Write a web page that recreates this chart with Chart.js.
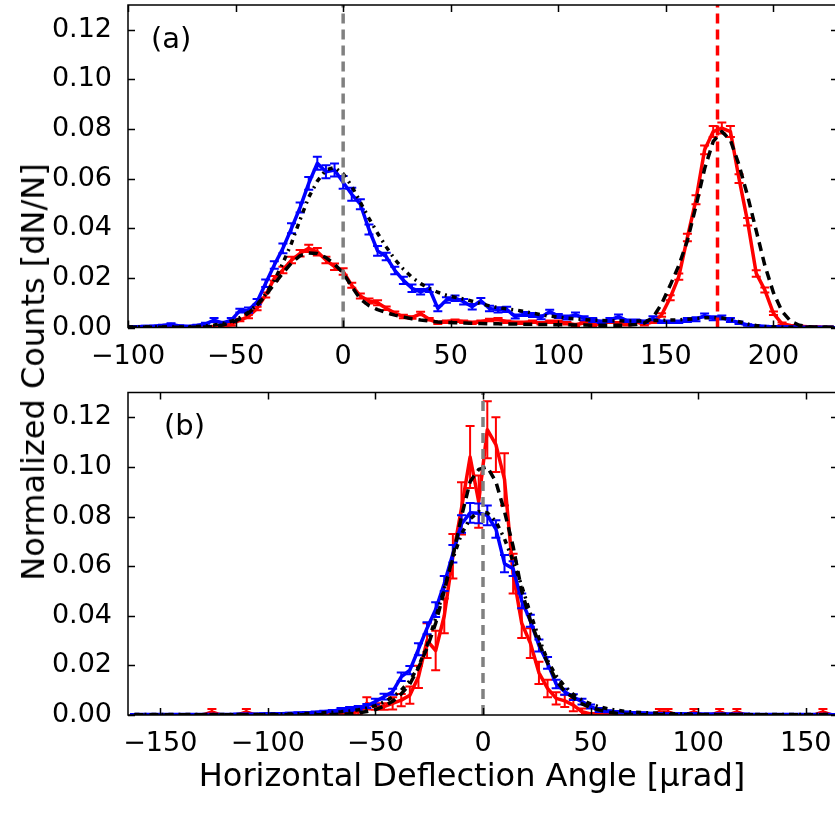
<!DOCTYPE html>
<html>
<head>
<meta charset="utf-8">
<script src="https://cdn.jsdelivr.net/npm/chart.js"></script>
<style>
  html, body { margin: 0; padding: 0; background: #fff; overflow: hidden; }
  body { width: 835px; height: 824px; position: relative; font-family: "DejaVu Sans", sans-serif; }
  canvas { position: absolute; left: 0; }
  #chartA { top: 0; }
  #chartB { top: 387px; }
  .txt { position: absolute; color: #000; white-space: nowrap; line-height: 1; }
  #yTitle { font-size: 32px; left: 33px; top: 372px; transform: translate(-50%, -50%) rotate(-90deg); }
  #xTitle { font-size: 32px; left: 472px; top: 775px; transform: translate(-50%, -50%); }
  #labelA { font-size: 29px; left: 151px; top: 38px; transform: translateY(-50%); }
  #labelB { font-size: 29px; left: 164px; top: 425px; transform: translateY(-50%); }
</style>
</head>
<body>
<canvas id="chartA" width="838" height="380"></canvas>
<canvas id="chartB" width="838" height="380"></canvas>
<div class="txt" id="yTitle">Normalized Counts [dN/N]</div>
<div class="txt" id="xTitle">Horizontal Deflection Angle [µrad]</div>
<div class="txt" id="labelA">(a)</div>
<div class="txt" id="labelB">(b)</div>
<script>
// --- panel (a): deflection angles, bins of 4 µrad ---
const angleA = [
  -100, -96, -92, -88, -84, -80, -76, -72, -68, -64,
  -60, -56, -52, -48, -44, -40, -36, -32, -28, -24,
  -20, -16, -12, -8, -4, 0, 4, 8, 12, 16,
  20, 24, 28, 32, 36, 40, 44, 48, 52, 56,
  60, 64, 68, 72, 76, 80, 84, 88, 92, 96,
  100, 104, 108, 112, 116, 120, 124, 128, 132, 136,
  140, 144, 148, 152, 156, 160, 164, 168, 172, 176,
  180, 184, 188, 192, 196, 200, 204, 208, 212, 216,
  220, 224, 228
];
const blueA = [
  0.0003, 0.0003, 0.0004, 0.0005, 0.0008, 0.0012, 0.0006, 0.0004, 0.0008, 0.0014,
  0.0030, 0.0018, 0.0030, 0.0068, 0.0070, 0.0104, 0.0178, 0.0252, 0.0319, 0.0400,
  0.0484, 0.0581, 0.0662, 0.0628, 0.0635, 0.0585, 0.0537, 0.0497, 0.0395, 0.0309,
  0.0286, 0.0230, 0.0190, 0.0158, 0.0144, 0.0158, 0.0077, 0.0111, 0.0118, 0.0104,
  0.0084, 0.0108, 0.0077, 0.0071, 0.0073, 0.0044, 0.0054, 0.0050, 0.0041, 0.0064,
  0.0046, 0.0040, 0.0052, 0.0037, 0.0030, 0.0023, 0.0030, 0.0044, 0.0027, 0.0027,
  0.0023, 0.0037, 0.0023, 0.0023, 0.0023, 0.0030, 0.0033, 0.0048, 0.0037, 0.0040,
  0.0030, 0.0019, 0.0010, 0.0006, 0.0004, 0.0003, 0.0002, 0.0002, 0.0001, 0.0001,
  0.0001, 0.0001, 0.0001
];
const blueErrA = [
  0.0003, 0.0003, 0.0003, 0.0003, 0.0003, 0.0005, 0.0003, 0.0003, 0.0003, 0.0005,
  0.0008, 0.0005, 0.0008, 0.0008, 0.0011, 0.0011, 0.0015, 0.0015, 0.0020, 0.0020,
  0.0020, 0.0026, 0.0026, 0.0026, 0.0026, 0.0026, 0.0026, 0.0020, 0.0020, 0.0020,
  0.0015, 0.0015, 0.0015, 0.0015, 0.0011, 0.0015, 0.0011, 0.0011, 0.0011, 0.0011,
  0.0011, 0.0011, 0.0011, 0.0011, 0.0011, 0.0008, 0.0008, 0.0008, 0.0008, 0.0008,
  0.0008, 0.0008, 0.0008, 0.0008, 0.0008, 0.0005, 0.0008, 0.0008, 0.0005, 0.0005,
  0.0005, 0.0008, 0.0005, 0.0005, 0.0005, 0.0008, 0.0008, 0.0008, 0.0008, 0.0008,
  0.0008, 0.0005, 0.0003, 0.0003, 0.0003, 0.0003, 0.0002, 0.0002, 0.0001, 0.0001,
  0.0001, 0.0001, 0.0001
];
const redA = [
  0.0002, 0.0002, 0.0002, 0.0002, 0.0002, 0.0002, 0.0002, 0.0002, 0.0002, 0.0003,
  0.0004, 0.0006, 0.0012, 0.0030, 0.0044, 0.0077, 0.0131, 0.0198, 0.0232, 0.0272,
  0.0299, 0.0319, 0.0305, 0.0272, 0.0245, 0.0226, 0.0170, 0.0127, 0.0107, 0.0100,
  0.0078, 0.0058, 0.0044, 0.0040, 0.0056, 0.0033, 0.0019, 0.0023, 0.0027, 0.0023,
  0.0019, 0.0023, 0.0030, 0.0033, 0.0023, 0.0019, 0.0019, 0.0023, 0.0017, 0.0023,
  0.0023, 0.0017, 0.0010, 0.0019, 0.0010, 0.0017, 0.0023, 0.0017, 0.0013, 0.0023,
  0.0013, 0.0023, 0.0050, 0.0120, 0.0205, 0.0363, 0.0515, 0.0716, 0.0790, 0.0804,
  0.0790, 0.0600, 0.0426, 0.0218, 0.0151, 0.0057, 0.0015, 0.0008, 0.0005, 0.0003,
  0.0002, 0.0001, 0.0001
];
const redErrA = [
  0.0002, 0.0002, 0.0002, 0.0002, 0.0002, 0.0002, 0.0002, 0.0002, 0.0002, 0.0002,
  0.0002, 0.0002, 0.0005, 0.0005, 0.0007, 0.0007, 0.0010, 0.0010, 0.0013, 0.0013,
  0.0013, 0.0015, 0.0015, 0.0013, 0.0013, 0.0013, 0.0010, 0.0010, 0.0010, 0.0010,
  0.0007, 0.0007, 0.0007, 0.0005, 0.0007, 0.0005, 0.0005, 0.0005, 0.0005, 0.0005,
  0.0005, 0.0005, 0.0005, 0.0005, 0.0005, 0.0005, 0.0005, 0.0005, 0.0005, 0.0005,
  0.0005, 0.0005, 0.0005, 0.0005, 0.0005, 0.0005, 0.0005, 0.0005, 0.0005, 0.0005,
  0.0005, 0.0005, 0.0007, 0.0010, 0.0013, 0.0015, 0.0018, 0.0018, 0.0022, 0.0022,
  0.0022, 0.0018, 0.0015, 0.0013, 0.0010, 0.0007, 0.0005, 0.0002, 0.0002, 0.0002,
  0.0002, 0.0001, 0.0001
];
// fit curves (black dashed = red fit, black dash-dot = blue fit)
const redFitA = [
  0.0001, 0.0001, 0.0001, 0.0001, 0.0001, 0.0001, 0.0001, 0.0001, 0.0001, 0.0002,
  0.0005, 0.0010, 0.0020, 0.0035, 0.0058, 0.0090, 0.0130, 0.0175, 0.0220, 0.0260,
  0.0290, 0.0300, 0.0298, 0.0282, 0.0255, 0.0220, 0.0165, 0.0115, 0.0088, 0.0072,
  0.0060, 0.0050, 0.0042, 0.0035, 0.0030, 0.0026, 0.0022, 0.0020, 0.0019, 0.0018,
  0.0017, 0.0016, 0.0015, 0.0015, 0.0014, 0.0014, 0.0013, 0.0013, 0.0012, 0.0012,
  0.0011, 0.0011, 0.0010, 0.0010, 0.0009, 0.0009, 0.0009, 0.0009, 0.0010, 0.0012,
  0.0018, 0.0040, 0.0095, 0.0170, 0.0250, 0.0350, 0.0490, 0.0640, 0.0750, 0.0790,
  0.0755, 0.0655, 0.0530, 0.0390, 0.0250, 0.0140, 0.0065, 0.0025, 0.0009, 0.0003,
  0.0001, 0.0001, 0.0001
];
const blueFitA = [
  0.0002, 0.0002, 0.0002, 0.0002, 0.0002, 0.0002, 0.0002, 0.0002, 0.0004, 0.0006,
  0.0010, 0.0016, 0.0025, 0.0040, 0.0062, 0.0092, 0.0135, 0.0190, 0.0260, 0.0340,
  0.0435, 0.0525, 0.0590, 0.0635, 0.0645, 0.0620, 0.0570, 0.0505, 0.0440, 0.0380,
  0.0325, 0.0275, 0.0235, 0.0202, 0.0177, 0.0158, 0.0142, 0.0130, 0.0122, 0.0115,
  0.0106, 0.0096, 0.0087, 0.0080, 0.0075, 0.0071, 0.0065, 0.0058, 0.0051, 0.0046,
  0.0042, 0.0038, 0.0035, 0.0032, 0.0030, 0.0028, 0.0027, 0.0027, 0.0026, 0.0026,
  0.0027, 0.0028, 0.0029, 0.0030, 0.0031, 0.0033, 0.0036, 0.0039, 0.0040, 0.0038,
  0.0032, 0.0023, 0.0014, 0.0008, 0.0004, 0.0002, 0.0001, 0.0001, 0.0001, 0.0001,
  0.0001, 0.0001, 0.0001
];
const zeroLineA = 0;
const peakLineA = 174;

// --- panel (b) ---
const angleB = [
  -162, -158, -154, -150, -146, -142, -138, -134, -130, -126,
  -122, -118, -114, -110, -106, -102, -98, -94, -90, -86,
  -82, -78, -74, -70, -66, -62, -58, -54, -50, -46,
  -42, -38, -34, -30, -26, -22, -18, -14, -10, -6,
  -2, 2, 6, 10, 14, 18, 22, 26, 30, 34,
  38, 42, 46, 50, 54, 58, 62, 66, 70, 74,
  78, 82, 86, 90, 94, 98, 102, 106, 110, 114,
  118, 122, 126, 130, 134, 138, 142, 146, 150, 154,
  158, 162
];
const blueB = [
  0.0002, 0.0002, 0.0002, 0.0002, 0.0002, 0.0002, 0.0002, 0.0002, 0.0002, 0.0002,
  0.0002, 0.0002, 0.0003, 0.0003, 0.0003, 0.0004, 0.0005, 0.0005, 0.0006, 0.0007,
  0.0008, 0.0010, 0.0013, 0.0016, 0.0020, 0.0024, 0.0028, 0.0036, 0.0054, 0.0074,
  0.0094, 0.0154, 0.0181, 0.0265, 0.0350, 0.0425, 0.0530, 0.0650, 0.0770, 0.0815,
  0.0813, 0.0805, 0.0750, 0.0610, 0.0590, 0.0460, 0.0380, 0.0280, 0.0210, 0.0125,
  0.0094, 0.0072, 0.0054, 0.0034, 0.0020, 0.0015, 0.0012, 0.0010, 0.0008, 0.0007,
  0.0006, 0.0005, 0.0004, 0.0004, 0.0004, 0.0004, 0.0003, 0.0003, 0.0003, 0.0003,
  0.0003, 0.0003, 0.0002, 0.0002, 0.0002, 0.0002, 0.0002, 0.0002, 0.0002, 0.0002,
  0.0002, 0.0002
];
const blueErrB = [
  0.0002, 0.0002, 0.0002, 0.0002, 0.0002, 0.0002, 0.0002, 0.0002, 0.0002, 0.0002,
  0.0002, 0.0002, 0.0002, 0.0002, 0.0002, 0.0003, 0.0003, 0.0003, 0.0003, 0.0004,
  0.0004, 0.0004, 0.0004, 0.0004, 0.0008, 0.0008, 0.0008, 0.0008, 0.0012, 0.0012,
  0.0012, 0.0017, 0.0017, 0.0024, 0.0024, 0.0030, 0.0030, 0.0035, 0.0035, 0.0040,
  0.0040, 0.0040, 0.0035, 0.0035, 0.0030, 0.0030, 0.0024, 0.0024, 0.0024, 0.0017,
  0.0012, 0.0012, 0.0012, 0.0008, 0.0008, 0.0004, 0.0004, 0.0004, 0.0004, 0.0004,
  0.0003, 0.0003, 0.0003, 0.0003, 0.0003, 0.0003, 0.0003, 0.0003, 0.0003, 0.0003,
  0.0002, 0.0002, 0.0002, 0.0002, 0.0002, 0.0002, 0.0002, 0.0002, 0.0002, 0.0002,
  0.0002, 0.0002
];
const redB = [
  0, 0, 0, 0, 0, 0, 0, 0, 0, 0.0012,
  0, 0, 0, 0.0012, 0, 0, 0, 0, 0, 0,
  0, 0.0006, 0.0004, 0.0008, 0.0006, 0.0008, 0.0013, 0.0047, 0.0034, 0.0034,
  0.0047, 0.0060, 0.0080, 0.0154, 0.0300, 0.0260, 0.0400, 0.0640, 0.0833, 0.1040,
  0.0860, 0.1150, 0.1090, 0.0950, 0.0570, 0.0370, 0.0290, 0.0170, 0.0107, 0.0067,
  0.0057, 0.0040, 0.0013, 0.0004, 0.0004, 0.0002, 0, 0, 0, 0,
  0, 0.0012, 0.0012, 0, 0, 0.0012, 0, 0, 0.0012, 0,
  0.0012, 0, 0, 0, 0, 0, 0, 0, 0, 0,
  0.0012, 0
];
const redErrB = [
  0, 0, 0, 0, 0, 0, 0, 0, 0, 0.0012,
  0, 0, 0, 0.0012, 0, 0, 0, 0, 0, 0,
  0, 0.0006, 0.0004, 0.0008, 0.0006, 0.0008, 0.0013, 0.0025, 0.0013, 0.0013,
  0.0025, 0.0025, 0.0035, 0.0045, 0.0070, 0.0080, 0.0070, 0.0090, 0.0105, 0.0125,
  0.0105, 0.0115, 0.0110, 0.0105, 0.0080, 0.0060, 0.0060, 0.0045, 0.0035, 0.0025,
  0.0025, 0.0025, 0.0013, 0.0004, 0.0004, 0.0002, 0, 0, 0, 0,
  0, 0.0012, 0.0012, 0, 0, 0.0012, 0, 0, 0.0012, 0,
  0.0012, 0, 0, 0, 0, 0, 0, 0, 0, 0,
  0.0012, 0
];
const redFitB = [
  0.0001, 0.0001, 0.0001, 0.0001, 0.0001, 0.0001, 0.0001, 0.0001, 0.0001, 0.0001,
  0.0001, 0.0001, 0.0001, 0.0001, 0.0001, 0.0001, 0.0001, 0.0001, 0.0001, 0.0001,
  0.0001, 0.0001, 0.0001, 0.0002, 0.0003, 0.0005, 0.0008, 0.0014, 0.0022, 0.0035,
  0.0055, 0.0085, 0.0125, 0.0190, 0.0270, 0.0370, 0.0500, 0.0640, 0.0800, 0.0940,
  0.0990, 0.1000, 0.0940, 0.0820, 0.0680, 0.0500, 0.0380, 0.0290, 0.0210, 0.0140,
  0.0095, 0.0070, 0.0045, 0.0030, 0.0020, 0.0012, 0.0007, 0.0004, 0.0002, 0.0001,
  0.0001, 0.0001, 0.0001, 0.0001, 0.0001, 0.0001, 0.0001, 0.0001, 0.0001, 0.0001,
  0.0001, 0.0001, 0.0001, 0.0001, 0.0001, 0.0001, 0.0001, 0.0001, 0.0001, 0.0001,
  0.0001, 0.0001
];
const blueFitB = [
  0.0002, 0.0002, 0.0002, 0.0002, 0.0002, 0.0002, 0.0002, 0.0002, 0.0002, 0.0002,
  0.0002, 0.0002, 0.0002, 0.0002, 0.0002, 0.0002, 0.0003, 0.0003, 0.0004, 0.0005,
  0.0006, 0.0007, 0.0009, 0.0011, 0.0013, 0.0016, 0.0021, 0.0028, 0.0038, 0.0052,
  0.0072, 0.0100, 0.0138, 0.0195, 0.0280, 0.0390, 0.0510, 0.0630, 0.0730, 0.0790,
  0.0820, 0.0815, 0.0780, 0.0710, 0.0620, 0.0520, 0.0410, 0.0310, 0.0220, 0.0158,
  0.0115, 0.0083, 0.0060, 0.0045, 0.0033, 0.0025, 0.0019, 0.0015, 0.0012, 0.0010,
  0.0008, 0.0007, 0.0006, 0.0005, 0.0004, 0.0003, 0.0002, 0.0002, 0.0002, 0.0002,
  0.0002, 0.0002, 0.0002, 0.0002, 0.0002, 0.0002, 0.0002, 0.0002, 0.0002, 0.0002,
  0.0002, 0.0002
];
const zeroLineB = 0;

const yMax = 0.13;
const yTickStep = 0.02;
const xTickStep = 50;

Chart.defaults.font.family = "DejaVu Sans";
Chart.defaults.color = "#000";

// inward ticks on all four sides + black frame, like the old matplotlib style
const framePlugin = {
  id: "frame",
  afterDraw(chart) {
    const { ctx, chartArea: a, scales } = chart;
    const len = 7;
    ctx.save();
    ctx.strokeStyle = "#000";
    ctx.lineWidth = 1.5;
    ctx.beginPath();
    scales.x.ticks.forEach((t) => {
      const px = Math.round(scales.x.getPixelForValue(t.value)) + 0.5;
      ctx.moveTo(px, a.bottom); ctx.lineTo(px, a.bottom - len);
      ctx.moveTo(px, a.top); ctx.lineTo(px, a.top + len);
    });
    scales.y.ticks.forEach((t) => {
      const py = Math.round(scales.y.getPixelForValue(t.value)) + 0.5;
      ctx.moveTo(a.left, py); ctx.lineTo(a.left + len, py);
      ctx.moveTo(a.right, py); ctx.lineTo(a.right - len, py);
    });
    ctx.stroke();
    ctx.strokeRect(a.left, a.top, a.right - a.left, a.bottom - a.top);
    ctx.restore();
  },
};

// vertical error bars with caps, drawn right after their own dataset
const errorBarPlugin = {
  id: "errorBars",
  afterDatasetDraw(chart, args) {
    const ds = chart.data.datasets[args.index];
    if (!ds.errors) return;
    const { ctx, chartArea: a, scales: { x, y } } = chart;
    ctx.save();
    ctx.beginPath();
    ctx.rect(a.left, a.top, a.right - a.left, a.bottom - a.top);
    ctx.clip();
    ctx.strokeStyle = ds.borderColor;
    ctx.lineWidth = 2;
    ctx.beginPath();
    ds.data.forEach((p, i) => {
      const e = ds.errors[i];
      if (!e) return;
      const px = x.getPixelForValue(p.x);
      const lo = y.getPixelForValue(p.y - e);
      const hi = y.getPixelForValue(p.y + e);
      ctx.moveTo(px, lo); ctx.lineTo(px, hi);
      ctx.moveTo(px - 4.5, lo); ctx.lineTo(px + 4.5, lo);
      ctx.moveTo(px - 4.5, hi); ctx.lineTo(px + 4.5, hi);
    });
    ctx.stroke();
    ctx.restore();
  },
};

const toPoints = (xs, ys) => xs.map((x, i) => ({ x: x, y: ys[i] }));
const vLine = (x) => [{ x: x, y: 0 }, { x: x, y: yMax }];

function series(label, xs, ys, color, extra) {
  return Object.assign({
    label: label,
    data: toPoints(xs, ys),
    borderColor: color,
    borderWidth: 3.5,
    pointRadius: 0,
    tension: 0,
    fill: false,
    borderJoinStyle: "round",
  }, extra || {});
}

function makePanel(canvasId, xMin, xMax, padTop, axisHeight, datasets) {
  return new Chart(document.getElementById(canvasId), {
    type: "line",
    data: { datasets: datasets },
    options: {
      responsive: false,
      animation: false,
      devicePixelRatio: 1,
      layout: { padding: { top: padTop, left: 0, right: 0, bottom: 0 } },
      plugins: { legend: { display: false }, tooltip: { enabled: false } },
      scales: {
        x: {
          type: "linear",
          min: xMin,
          max: xMax,
          grid: { display: false },
          border: { display: false },
          ticks: {
            stepSize: xTickStep,
            includeBounds: false,
            maxRotation: 0,
            autoSkip: false,
            padding: 5,
            font: { size: 27 },
            color: "#000",
            callback: (v) => String(v).replace("-", "\u2212"),
          },
          afterFit: (s) => {
            s.height = axisHeight;
            s.paddingLeft = 0;
            s.paddingRight = 0;
          },
        },
        y: {
          min: 0,
          max: yMax,
          grid: { display: false },
          border: { display: false },
          ticks: {
            stepSize: yTickStep,
            includeBounds: false,
            padding: 8,
            font: { size: 27 },
            color: "#000",
            callback: (v) => v.toFixed(2),
          },
          afterFit: (s) => {
            s.width = 128;
            s.paddingTop = 0;
            s.paddingBottom = 0;
          },
        },
      },
    },
    plugins: [errorBarPlugin, framePlugin],
  });
}

makePanel("chartA", -100, 230, 5, 52.5, [
  series("zero", [zeroLineA, zeroLineA], [0, yMax], "#808080", { data: vLine(zeroLineA), borderDash: [10, 6], order: 1 }),
  series("peak", [peakLineA, peakLineA], [0, yMax], "#ff0000", { data: vLine(peakLineA), borderDash: [10, 6], order: 1 }),
  series("fit red", angleA, redFitA, "#000000", { borderDash: [9, 6], order: 2 }),
  series("fit blue", angleA, blueFitA, "#000000", { borderDash: [5, 5, 2, 5], order: 2 }),
  series("blue", angleA, blueA, "#0000ff", { errors: blueErrA, order: 3 }),
  series("red", angleA, redA, "#ff0000", { errors: redErrA, order: 4 }),
]);

makePanel("chartB", -165, 165, 5.5, 52, [
  series("zero", [zeroLineB, zeroLineB], [0, yMax], "#808080", { data: vLine(zeroLineB), borderDash: [10, 6], order: 1 }),
  series("fit red", angleB, redFitB, "#000000", { borderDash: [9, 6], order: 2 }),
  series("fit blue", angleB, blueFitB, "#000000", { borderDash: [5, 5, 2, 5], order: 2 }),
  series("blue", angleB, blueB, "#0000ff", { errors: blueErrB, order: 3 }),
  series("red", angleB, redB, "#ff0000", { errors: redErrB, order: 4 }),
]);
</script>
</body>
</html>
